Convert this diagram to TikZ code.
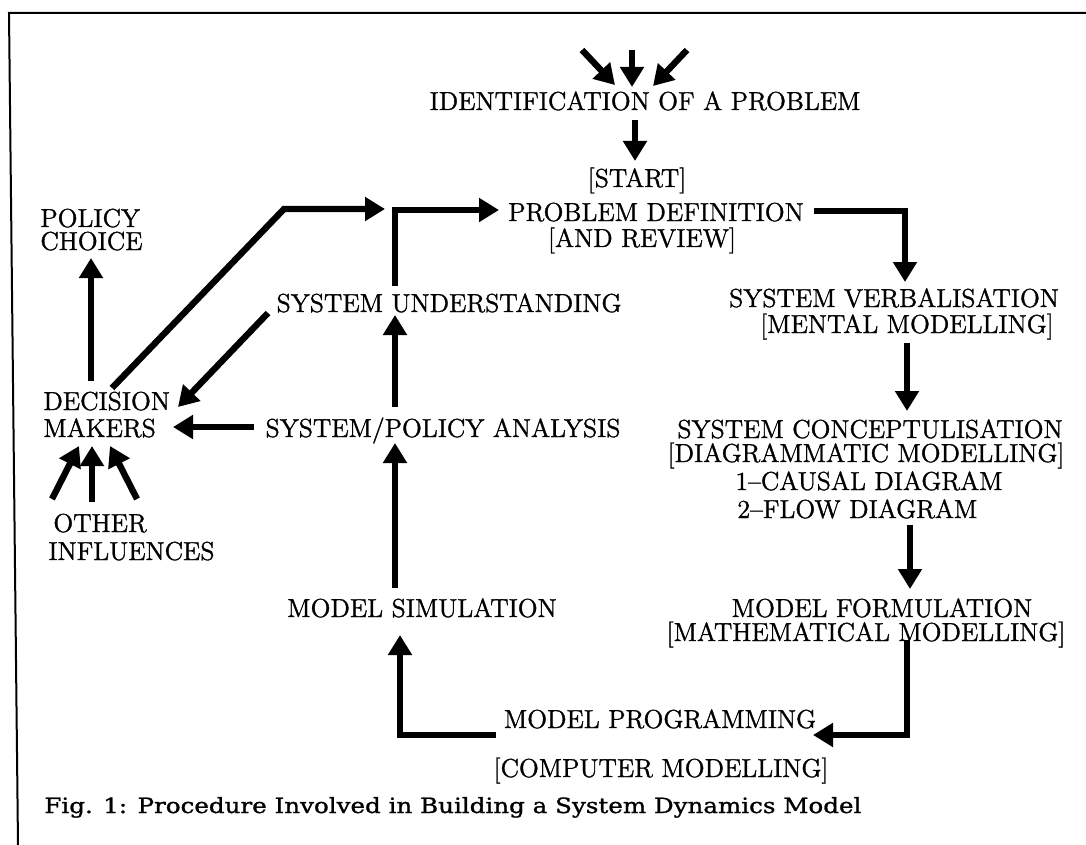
\documentclass[tikz,border=0pt]{standalone}
\usepackage{fontspec}
\newfontfamily\capfont{DejaVu Serif}[FakeStretch=1.17,FakeBold=1.2]
\newfontfamily\mainheavy{lmroman12-regular.otf}[FakeBold=1.3,Ligatures=TeX]
\usetikzlibrary{arrows.meta}
\begin{document}
\begin{tikzpicture}[x=0.5pt,y=-0.5pt,
  lbl/.style={inner sep=0pt,anchor=base,font=\mainheavy\fontsize{13}{14}\selectfont},
  lblw/.style={lbl,anchor=base west},
  arr/.style={line width=3.2pt,line join=miter,-{Triangle[length=10pt,width=11.5pt]}},
  frameline/.style={line width=1pt}]
\useasboundingbox (0,0) rectangle (1086,845);
\draw[frameline] (18,845) -- (9,13) -- (1086,13);

% texts
\node[lbl] (ident) at (645,110) {IDENTIFICATION OF A PROBLEM};
\node[lbl] (start) at (637,187) {[START]};
\node[lbl] (pdef) at (656,221) {PROBLEM DEFINITION};
\node[lbl] (prev) at (642,247) {[AND REVIEW]};
\node[lblw] (policyA) at (40,227) {POLICY};
\node[lblw] (policyB) at (40,250) {CHOICE};
\node[lbl] (sund) at (449,312) {SYSTEM UNDERSTANDING};
\node[lbl] (sverb) at (894,307) {SYSTEM VERBALISATION};
\node[lbl] (smental) at (907,333) {[MENTAL MODELLING]};
\node[lblw] (dmA) at (43,410) {DECISION};
\node[lblw] (dmB) at (43,437) {MAKERS};
\node[lbl] (spa) at (443,437) {SYSTEM/POLICY ANALYSIS};
\node[lblw] (othA) at (53,532) {OTHER};
\node[lblw] (othB) at (48,560) {INFLUENCES};
\node[lbl] (sconc) at (870,438) {SYSTEM CONCEPTULISATION};
\node[lbl] (sdiag) at (866,462) {[DIAGRAMMATIC MODELLING]};
\node[lblw] (causal) at (735,490) {1–CAUSAL DIAGRAM};
\node[lblw] (flow) at (737,518) {2–FLOW DIAGRAM};
\node[lbl] (mform) at (882,617) {MODEL FORMULATION};
\node[lbl] (mmath) at (866,641) {[MATHEMATICAL MODELLING]};
\node[lbl] (msim) at (422,617) {MODEL SIMULATION};
\node[lbl] (mprog) at (660,728) {MODEL PROGRAMMING};
\node[lbl] (mcomp) at (661,777) {[COMPUTER MODELLING]};
\node[inner sep=0pt,anchor=base west,font=\capfont\fontsize{10.5}{12}\selectfont] (cap) at (44,813)
  {Fig. 1: Procedure Involved in Building a System Dynamics Model};

% free ends / bends
\coordinate (inA) at (582,50);
\coordinate (inB) at (632,50);
\coordinate (inC) at (687,50);
\coordinate (tA) at (615,85);
\coordinate (tB) at (632,87);
\coordinate (tC) at (653,86);
\coordinate (idB) at (635,120);
\coordinate (stT) at (635,161);
\coordinate (suTop) at (395,286);
\coordinate (loopC) at (395,210);
\coordinate (pdL) at (499,210);
\coordinate (dmTop) at (112,388);
\coordinate (dmBend) at (284,209);
\coordinate (dmTip) at (385,209);
\coordinate (pcB) at (91,381);
\coordinate (pcT) at (91,258);
\coordinate (suL) at (268,313);
\coordinate (dmR) at (178,407);
\coordinate (spaL) at (254,427);
\coordinate (dmRR) at (173,427);
\coordinate (spaT) at (395,407);
\coordinate (suB) at (395,315);
\coordinate (msT) at (395,588);
\coordinate (spaB) at (395,443);
\coordinate (oA) at (52,499);
\coordinate (oAt) at (79,446);
\coordinate (oB) at (92,502);
\coordinate (oBt) at (92,446);
\coordinate (oC) at (137,499);
\coordinate (oCt) at (110,446);
\coordinate (pdR) at (814,211);
\coordinate (pdC) at (905,211);
\coordinate (svT) at (905,282);
\coordinate (svB) at (907,343);
\coordinate (scT) at (907,411);
\coordinate (scB) at (910,525);
\coordinate (mfT) at (910,589);
\coordinate (mfB) at (907,640);
\coordinate (mfC) at (907,735);
\coordinate (mpR) at (813,735);
\coordinate (mpL) at (496,735);
\coordinate (msC) at (400,735);
\coordinate (msB) at (400,635);

% connectors
\draw[arr] (inA) -- (tA);
\draw[arr] (inB) -- (tB);
\draw[arr] (inC) -- (tC);
\draw[arr] (idB) -- (stT);
\draw[arr] (suTop) -- (loopC) -- (pdL);
\draw[arr] (dmTop) -- (dmBend) -- (dmTip);
\draw[arr] (pcB) -- (pcT);
\draw[arr] (suL) -- (dmR);
\draw[arr] (spaL) -- (dmRR);
\draw[arr] (spaT) -- (suB);
\draw[arr] (msT) -- (spaB);
\draw[arr] (oA) -- (oAt);
\draw[arr] (oB) -- (oBt);
\draw[arr] (oC) -- (oCt);
\draw[arr] (pdR) -- (pdC) -- (svT);
\draw[arr] (svB) -- (scT);
\draw[arr] (scB) -- (mfT);
\draw[arr] (mfB) -- (mfC) -- (mpR);
\draw[arr] (mpL) -- (msC) -- (msB);
\end{tikzpicture}
\end{document}
